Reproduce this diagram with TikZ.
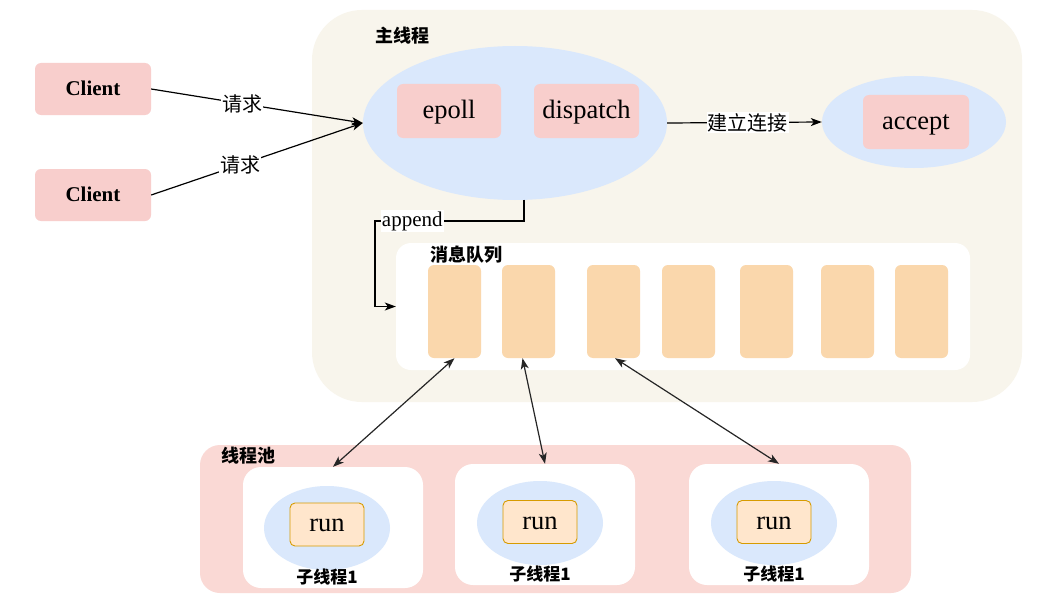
\documentclass[tikz,border=0pt]{standalone}
\usepackage{fontspec}
\setmainfont{Liberation Serif}
\newfontfamily\cjk{Noto Sans CJK SC}
\usetikzlibrary{arrows.meta,shapes.geometric}
\definecolor{pinkbox}{HTML}{F8CECC}
\definecolor{bluefill}{HTML}{DAE8FC}
\definecolor{beige}{HTML}{F8F5EC}
\definecolor{cellfill}{HTML}{FAD7AC}
\definecolor{poolfill}{HTML}{FAD9D5}
\definecolor{runfill}{HTML}{FFE6CC}
\definecolor{runline}{HTML}{D79B00}
\tikzset{
  pbox/.style={fill=pinkbox, draw=none, rounded corners=6pt, inner sep=0pt, text height=18.5pt, text depth=4.5pt, font=\fontsize{26.5}{29}\selectfont},
  clientbox/.style={pbox, minimum width=116pt, minimum height=52pt, text height=16pt, text depth=3pt, font=\fontsize{21}{24}\selectfont\bfseries},
  ell/.style={ellipse, fill=bluefill, draw=none, inner sep=0pt},
  cellbox/.style={fill=cellfill, draw=none, rounded corners=6pt, minimum width=53pt, minimum height=93pt, inner sep=0pt},
  subbox/.style={fill=white, draw=none, rounded corners=18pt, minimum width=180pt, minimum height=121pt, inner sep=0pt},
  runbox/.style={fill=runfill, draw=runline, line width=0.9pt, rounded corners=5pt, minimum width=74pt, minimum height=43pt, inner sep=0pt, text height=18.5pt, text depth=4.5pt, font=\fontsize{26.5}{29}\selectfont},
  title/.style={inner sep=0pt, font=\fontsize{18}{20}\selectfont\cjk\bfseries},
  lbl/.style={fill=white, inner sep=1pt, font=\fontsize{20}{22}\selectfont\cjk},
  arr/.style={draw=black, line width=1.2pt, -{Stealth[length=11pt,width=8pt,inset=3pt]}},
  darr/.style={draw=black!85, line width=1.2pt, {Stealth[length=11pt,width=8pt,inset=3pt]}-{Stealth[length=11pt,width=8pt,inset=3pt]}},
}
\begin{document}
\begin{tikzpicture}[x=1pt,y=-1pt]
\useasboundingbox[fill=white] (0,0) rectangle (1056,607);
% main thread container
\node[fill=beige, rounded corners=50pt, minimum width=710pt, minimum height=392pt, inner sep=0pt] (main) at (667,206) {};
\node[title] (mainlbl) at (402,36) {主线程};
% clients
\node[clientbox] (c1) at (93,89) {Client};
\node[clientbox] (c2) at (93,195) {Client};
% big ellipse
\node[ell, minimum width=304pt, minimum height=154pt] (bigE) at (515,123) {};
\node[pbox, minimum width=104pt, minimum height=54pt] (epoll) at (449,111) {epoll};
\node[pbox, minimum width=105pt, minimum height=54pt] (disp) at (586.5,111) {dispatch};
% accept
\node[ell, minimum width=184pt, minimum height=92pt] (accE) at (914,122) {};
\node[pbox, minimum width=106pt, minimum height=54pt] (acc) at (916,122) {accept};
% queue
\node[fill=white, rounded corners=15pt, minimum width=574pt, minimum height=127pt, inner sep=0pt] (queue) at (683,306.5) {};
\node[title] (qlbl) at (466,255) {消息队列};
\foreach \i/\x in {1/454.5,2/528.5,3/613.5,4/688.5,5/766.5,6/847.5,7/921.5}
  \node[cellbox] (q\i) at (\x,311.5) {};
% thread pool
\node[fill=poolfill, rounded corners=20pt, minimum width=711pt, minimum height=148pt, inner sep=0pt] (pool) at (555.5,519) {};
\node[title] (plbl) at (248,456) {线程池};
\node[subbox] (s1) at (333,527.5) {};
\node[subbox] (s2) at (545,524.5) {};
\node[subbox] (s3) at (779,524.5) {};
\node[ell, minimum width=126pt, minimum height=84pt] (e1) at (327,528) {};
\node[ell, minimum width=126pt, minimum height=84pt] (e2) at (540,523) {};
\node[ell, minimum width=126pt, minimum height=84pt] (e3) at (774,523) {};
\node[runbox] (r1) at (327,524.5) {run};
\node[runbox] (r2) at (540,522) {run};
\node[runbox] (r3) at (774,522) {run};
\node[title, font=\fontsize{17}{20}\selectfont\cjk\bfseries] (t1) at (327,577) {子线程1};
\node[title, font=\fontsize{17}{20}\selectfont\cjk\bfseries] (t2) at (540,574) {子线程1};
\node[title, font=\fontsize{17}{20}\selectfont\cjk\bfseries] (t3) at (774,574) {子线程1};
% connectors
\draw[arr] (c1.east) -- node[lbl, pos=0.43] {请求} (bigE.west);
\draw[arr] (c2.east) -- node[lbl, pos=0.42] {请求} (bigE.west);
\draw[arr] (bigE.east) -- node[lbl, pos=0.52] {建立连接} (accE.west);
\coordinate (apS) at (524,199.5);
\coordinate (apT) at (524,221);
\draw[arr] (apS) -- (apT) -- node[lbl, pos=0.75, font=\fontsize{21}{24}\selectfont] {append} (375,221) |- (queue.west);
\draw[darr] (q1.south) -- (s1.north);
\draw[darr] ([xshift=-6pt]q2.south) -- (s2.north);
\draw[darr] ([xshift=1.5pt]q3.south) -- (s3.north);
\end{tikzpicture}
\end{document}
